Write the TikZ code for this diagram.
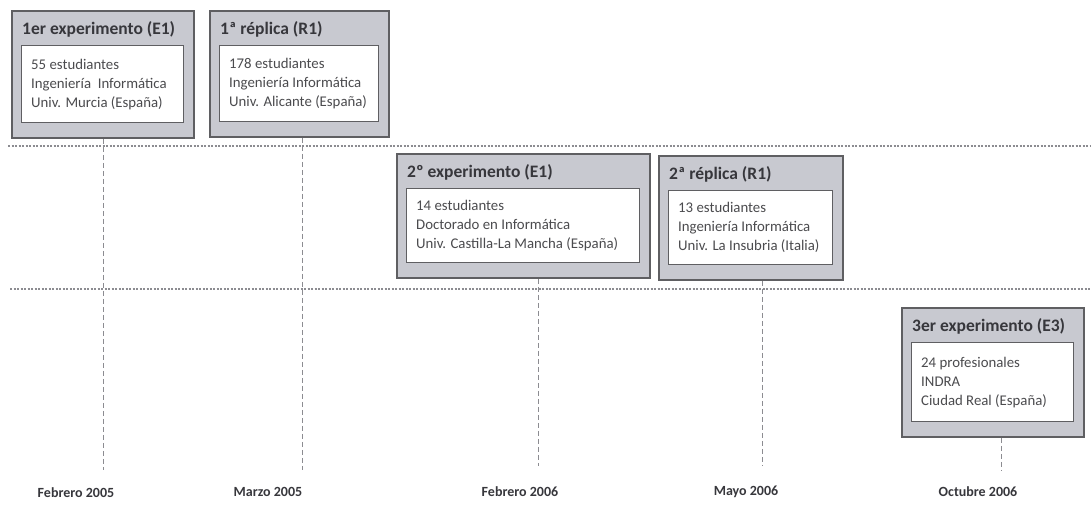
\documentclass[tikz,border=0pt]{standalone}
\usepackage{fontspec}
\setmainfont{Carlito}
\definecolor{boxfill}{RGB}{200,201,208}
\definecolor{boxline}{RGB}{95,95,98}
\definecolor{titletext}{RGB}{55,55,60}
\definecolor{bodytext}{RGB}{75,75,78}
\definecolor{guide}{RGB}{140,140,145}
\tikzset{
  outerbox/.style={draw=boxline, fill=boxfill, line width=1.8pt, inner sep=0pt},
  innerbox/.style={draw=boxline, fill=white, line width=1.3pt, inner sep=0pt},
  boxtitle/.style={anchor=west, inner sep=0pt, text=titletext, font=\fontsize{17.5}{20}\selectfont\bfseries},
  boxbody/.style={anchor=west, inner sep=0pt, text=bodytext, align=left, font=\fontsize{14.8}{19}\selectfont},
  datelabel/.style={inner sep=0pt, text=titletext, font=\fontsize{14}{16}\selectfont\bfseries},
  rowsep/.style={draw=guide, line width=1.1pt, dash pattern=on 2pt off 1.5pt},
  timeline/.style={draw=guide, line width=0.9pt, dash pattern=on 5pt off 3pt},
}
\newcommand{\eventbox}[7]{%
  % #1 name, #2 left, #3 top, #4 right, #5 bottom, #6 title, #7 body
  \node[outerbox, minimum width=#4-#2, minimum height=#5-#3, anchor=north west] (#1) at (#2,#3) {};
  \node[innerbox, minimum width=#4-#2-20, minimum height=#5-#3-50, anchor=north west] (#1in) at (#2+10,#3+35) {};
  \node[boxtitle] (#1title) at (#2+11,#3+19) {#6};
  \node[boxbody] (#1body) at ([xshift=10pt]#1in.west) {#7};
}
\begin{document}
\begin{tikzpicture}[x=1pt,y=-1pt]
  \useasboundingbox (0,0) rectangle (1091,504);
  \fill[white] (0,0) rectangle (1091,504);

  % row separators
  \coordinate (sepAw) at (8,146);
  \coordinate (sepAe) at (1091,146);
  \coordinate (sepBw) at (10,289);
  \coordinate (sepBe) at (1091,289);
  \draw[rowsep] (sepAw) -- (sepAe);
  \draw[rowsep] (sepBw) -- (sepBe);

  % events
  \eventbox{e1}{11}{10}{193}{137}{1er experimento (E1)}{55 estudiantes\\Ingeniería\ \ Informática\\Univ. Murcia (España)}
  \eventbox{r1}{209}{10}{388}{136}{1ª réplica (R1)}{178 estudiantes\\Ingeniería Informática\\Univ. Alicante (España)}
  \eventbox{e2}{396}{153}{649}{277}{2º experimento (E1)}{14 estudiantes\\Doctorado en Informática\\Univ. Castilla-La Mancha (España)}
  \eventbox{r2}{658}{155}{842}{279}{2ª réplica (R1)}{13 estudiantes\\Ingeniería Informática\\Univ. La Insubria (Italia)}
  \eventbox{e3}{901}{307}{1083}{436}{3er experimento (E3)}{24 profesionales\\INDRA\\Ciudad Real (España)}

  % timeline ends, each line drops straight down from its box
  \coordinate (t1) at (103,470);
  \coordinate (t2) at (302,470);
  \coordinate (t3) at (538,466);
  \coordinate (t4) at (762,466);
  \coordinate (t5) at (1001,470);
  \draw[timeline] (t1 |- e1.south) -- (t1);
  \draw[timeline] (t2 |- r1.south) -- (t2);
  \draw[timeline] (t3 |- e2.south) -- (t3);
  \draw[timeline] (t4 |- r2.south) -- (t4);
  \draw[timeline] (t5 |- e3.south) -- (t5);

  % dates
  \node[datelabel] (d1) at (76,493) {Febrero 2005};
  \node[datelabel] (d2) at (268,492) {Marzo 2005};
  \node[datelabel] (d3) at (520,492) {Febrero 2006};
  \node[datelabel] (d4) at (746,492) {Mayo 2006};
  \node[datelabel] (d5) at (978,492) {Octubre 2006};
\end{tikzpicture}
\end{document}
